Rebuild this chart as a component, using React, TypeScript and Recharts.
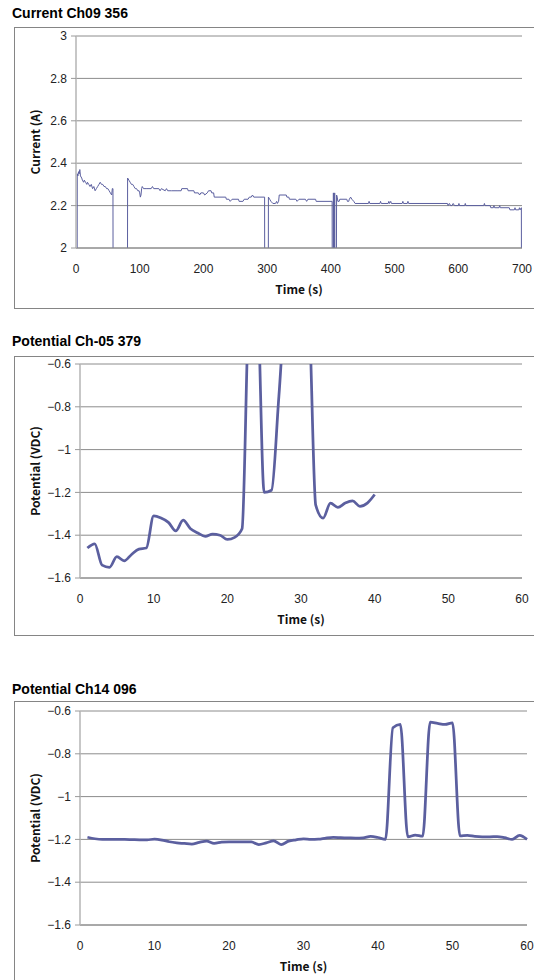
import React from "react"
import { CartesianGrid, Label, Line, LineChart, XAxis, YAxis } from "recharts"

// Current Ch09 356 (time in s, current in A). 0 = channel dropped out, clipped below the axis
const currentTime = [
	1, 2, 3, 4, 5, 6, 7, 9, 10, 12, 13, 15, 17, 18, 20, 22, 24, 26, 28, 30, 32, 34, 36, 38, 40, 42, 44, 46, 48, 50,
	52, 54, 56, 57, 58, 59, 80, 81, 83, 85, 87, 89, 91, 93, 95, 97, 99, 100, 101, 102, 103, 104, 106, 110, 118, 120,
	122, 130, 132, 134, 140, 142, 144, 150, 160, 165, 166, 175, 176, 185, 186, 192, 194, 196, 200, 202, 206, 208,
	212, 213, 216, 217, 235, 236, 240, 242, 245, 255, 256, 262, 264, 270, 272, 275, 277, 279, 296, 297, 301, 302,
	304, 306, 309, 313, 315, 316, 318, 319, 330, 331, 334, 335, 345, 347, 350, 360, 362, 364, 376, 377, 402, 403,
	404, 405, 406, 407, 409, 410, 411, 413, 414, 425, 426, 428, 429, 431, 433, 436, 438, 459, 460, 461, 477, 478,
	479, 490, 491, 492, 494, 495, 512, 513, 514, 520, 521, 522, 583, 584, 586, 588, 590, 592, 594, 600, 601, 602,
	610, 611, 612, 640, 641, 642, 650, 651, 655, 656, 657, 664, 665, 666, 680, 681, 688, 689, 690, 695, 696, 697,
	699, 700,
]
const currentAmps = [
	0, 2.35, 2.34, 2.36, 2.35, 2.37, 2.34, 2.33, 2.32, 2.31, 2.32, 2.31, 2.3, 2.31, 2.3, 2.29, 2.3, 2.28, 2.29, 2.27,
	2.28, 2.29, 2.3, 2.31, 2.3, 2.3, 2.29, 2.29, 2.28, 2.28, 2.27, 2.26, 2.25, 2.28, 2.28, 0, 0, 2.33, 2.32, 2.31,
	2.3, 2.3, 2.29, 2.28, 2.28, 2.27, 2.27, 2.26, 2.24, 2.25, 2.28, 2.29, 2.28, 2.28, 2.28, 2.29, 2.28, 2.28, 2.27,
	2.28, 2.27, 2.28, 2.27, 2.27, 2.27, 2.27, 2.28, 2.28, 2.27, 2.27, 2.26, 2.26, 2.25, 2.26, 2.26, 2.25, 2.26,
	2.27, 2.27, 2.26, 2.26, 2.24, 2.24, 2.23, 2.23, 2.22, 2.23, 2.23, 2.22, 2.22, 2.23, 2.23, 2.24, 2.24, 2.25,
	2.24, 2.24, 0, 0, 2.24, 2.23, 2.22, 2.21, 2.21, 2.22, 2.21, 2.22, 2.25, 2.25, 2.24, 2.24, 2.23, 2.23, 2.22,
	2.23, 2.23, 2.22, 2.23, 2.23, 2.22, 2.22, 0, 2.26, 0, 2.26, 0, 2.25, 2.24, 2.22, 2.22, 2.23, 2.23, 2.22, 2.22,
	2.23, 2.24, 2.23, 2.22, 2.21, 2.21, 2.22, 2.21, 2.21, 2.22, 2.21, 2.21, 2.22, 2.21, 2.22, 2.21, 2.21, 2.22,
	2.21, 2.21, 2.22, 2.21, 2.21, 2.2, 2.21, 2.2, 2.2, 2.21, 2.2, 2.2, 2.21, 2.2, 2.2, 2.21, 2.2, 2.2, 2.21, 2.2,
	2.2, 2.19, 2.19, 2.2, 2.19, 2.19, 2.2, 2.19, 2.19, 2.18, 2.18, 2.19, 2.18, 2.18, 2.19, 2.18, 2.19, 0,
]
const currentXTicks = [0, 100, 200, 300, 400, 500, 600, 700]
const currentYTicks = [2, 2.2, 2.4, 2.6, 2.8, 3]

// Potential Ch-05 379 (VDC), one reading per second
const ch05Time = [
	1, 2, 3, 4, 5, 6, 7, 8, 9, 10, 11, 12, 13, 14, 15, 16, 17, 18, 19, 20, 21, 22, 23, 24, 25, 26, 27, 28, 29, 30,
	31, 32, 33, 34, 35, 36, 37, 38, 39, 40,
]
const ch05Volts = [
	-1.46, -1.44, -1.54, -1.55, -1.5, -1.52, -1.49, -1.465, -1.46, -1.31, -1.32, -1.34, -1.38, -1.33, -1.37, -1.39,
	-1.405, -1.395, -1.4, -1.42, -1.41, -1.37, -0.3, -0.25, -1.2, -1.19, -0.75, -0.3, -0.25, -0.25, -0.32, -1.26,
	-1.32, -1.25, -1.27, -1.25, -1.24, -1.265, -1.25, -1.21,
]

// Potential Ch14 096 (VDC)
const ch14Time = [
	1, 2, 3, 4, 5, 6, 7, 8, 9, 10, 11, 12, 13, 14, 15, 16, 17, 18, 19, 20, 21, 22, 23, 24, 25, 26, 27, 28, 29, 30,
	31, 32, 33, 34, 35, 36, 37, 38, 39, 40, 41, 42, 43, 44, 45, 46, 47, 48, 49, 50, 51, 52, 53, 54, 55, 56, 57, 58,
	59, 60,
]
const ch14Volts = [
	-1.19, -1.197, -1.2, -1.2, -1.2, -1.2, -1.201, -1.202, -1.202, -1.199, -1.203, -1.211, -1.216, -1.219, -1.222,
	-1.214, -1.208, -1.218, -1.213, -1.211, -1.211, -1.211, -1.212, -1.224, -1.216, -1.207, -1.224, -1.208, -1.202,
	-1.197, -1.2, -1.199, -1.194, -1.191, -1.192, -1.193, -1.194, -1.193, -1.186, -1.191, -1.2, -0.678, -0.663,
	-1.188, -1.18, -1.185, -0.652, -0.658, -0.663, -0.655, -1.183, -1.181, -1.186, -1.188, -1.188, -1.187, -1.192,
	-1.2, -1.181, -1.2,
]
const potentialXTicks = [0, 10, 20, 30, 40, 50, 60]
const potentialYTicks = [-1.6, -1.4, -1.2, -1, -0.8, -0.6]

const toRows = (xs: number[], ys: number[]) => xs.map((t, i) => ({ t, v: ys[i] }))

const tickFont = { fontFamily: "'Liberation Sans', Arial, sans-serif", fontSize: 12, fill: "#222" }
const labelFont = {
	fontFamily: "'Noto Sans CJK JP', 'Noto Sans', sans-serif",
	fontSize: 12,
	fontWeight: 700,
	fill: "#111",
}
const minus = (v: number) => String(v).replace("-", "\u2212")

interface PanelProps {
	title: string
	titleTop: number
	boxTop: number
	boxHeight: number
	plotTop: number
	plotHeight: number
	yAxisWidth: number
	rightGap: number
	rows: { t: number; v: number }[]
	xTicks: number[]
	yTicks: number[]
	yLabel: string
	lineWidth: number
	smooth: boolean
}

const Panel = (p: PanelProps) => {
	const width = 522
	return (
		<>
			<div
				style={{
					position: "absolute",
					left: 12,
					top: p.titleTop - 9,
					height: 18,
					lineHeight: "18px",
					font: "bold 14px 'Liberation Sans', Arial, sans-serif",
					color: "#000",
					whiteSpace: "nowrap",
				}}>
				{p.title}
			</div>
			<div style={{ position: "absolute", left: 14, top: p.boxTop, width, height: p.boxHeight }}>
				<div
					style={{
						position: "absolute",
						inset: 0,
						border: "1px solid #858585",
						boxSizing: "border-box",
					}}
				/>
				<div style={{ position: "absolute", left: 0, top: 0 }}>
					<LineChart
						width={width}
						height={p.boxHeight}
						data={p.rows}
						margin={{ top: p.plotTop, right: p.rightGap, left: 0, bottom: 0 }}>
						<CartesianGrid vertical={false} stroke="#8c8c8c" strokeWidth={1} />
						<XAxis
							dataKey="t"
							type="number"
							domain={[p.xTicks[0], p.xTicks[p.xTicks.length - 1]]}
							ticks={p.xTicks}
							interval={0}
							tickLine={false}
							tickMargin={10}
							axisLine={{ stroke: "#8c8c8c" }}
							tick={tickFont}
							height={p.boxHeight - p.plotTop - p.plotHeight}>
							<Label value="Time (s)" position="insideTop" offset={37} style={labelFont} />
						</XAxis>
						<YAxis
							type="number"
							domain={[p.yTicks[0], p.yTicks[p.yTicks.length - 1]]}
							ticks={p.yTicks}
							interval={0}
							allowDataOverflow
							width={p.yAxisWidth}
							tickSize={5}
							tickMargin={4}
							tickLine={{ stroke: "#9a9a9a" }}
							axisLine={{ stroke: "#b5b5b5", strokeWidth: 1.5 }}
							tick={tickFont}
							tickFormatter={minus}>
							<Label
								value={p.yLabel}
								angle={-90}
								position="insideLeft"
								offset={22}
								style={{ ...labelFont, textAnchor: "middle" }}
							/>
						</YAxis>
						<Line
							dataKey="v"
							type={p.smooth ? "monotone" : "linear"}
							stroke="#5b5f9f"
							strokeWidth={p.lineWidth}
							dot={false}
							isAnimationActive={false}
						/>
					</LineChart>
				</div>
			</div>
		</>
	)
}

export default function App() {
	return (
		<div
			style={{
				position: "absolute",
				left: 0,
				top: 0,
				width: 534,
				height: 980,
				overflow: "hidden",
				background: "#fff",
			}}>
			<Panel
				title="Current Ch09 356"
				titleTop={14}
				boxTop={27}
				boxHeight={282}
				plotTop={9}
				plotHeight={212}
				yAxisWidth={62}
				rightGap={14}
				rows={toRows(currentTime, currentAmps)}
				xTicks={currentXTicks}
				yTicks={currentYTicks}
				yLabel="Current (A)"
				lineWidth={1}
				smooth={false}
			/>
			<Panel
				title="Potential Ch-05 379"
				titleTop={342}
				boxTop={356}
				boxHeight={280}
				plotTop={8}
				plotHeight={214}
				yAxisWidth={66}
				rightGap={14}
				rows={toRows(ch05Time, ch05Volts)}
				xTicks={potentialXTicks}
				yTicks={potentialYTicks}
				yLabel="Potential (VDC)"
				lineWidth={2.75}
				smooth
			/>
			<Panel
				title="Potential Ch14 096"
				titleTop={690}
				boxTop={701}
				boxHeight={300}
				plotTop={10}
				plotHeight={214}
				yAxisWidth={66}
				rightGap={9}
				rows={toRows(ch14Time, ch14Volts)}
				xTicks={potentialXTicks}
				yTicks={potentialYTicks}
				yLabel="Potential (VDC)"
				lineWidth={2.75}
				smooth
			/>
		</div>
	)
}
